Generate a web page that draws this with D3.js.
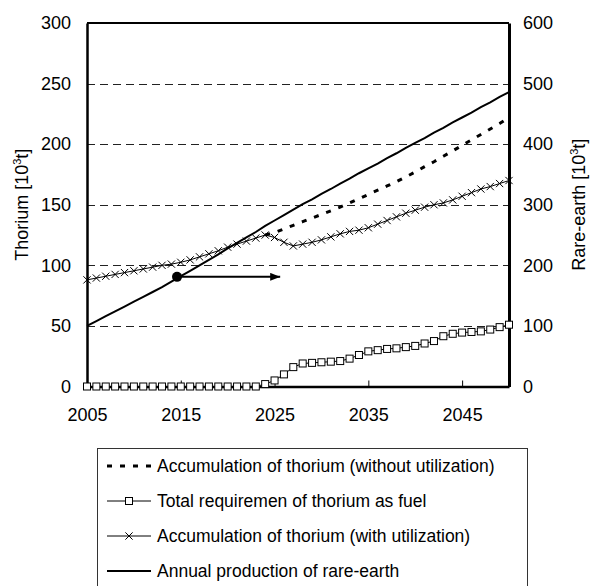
<!DOCTYPE html>
<html>
<head>
<meta charset="utf-8">
<script src="https://cdn.jsdelivr.net/npm/d3@7"></script>
<style>
  body { margin: 0; background: #fff; }
  svg { display: block; font-family: "Liberation Sans", Arial, sans-serif; }
</style>
</head>
<body>
<svg width="590" height="586"></svg>
<script>
// years on the category axis
var years = [2005, 2006, 2007, 2008, 2009, 2010, 2011, 2012, 2013, 2014,
  2015, 2016, 2017, 2018, 2019, 2020, 2021, 2022, 2023, 2024,
  2025, 2026, 2027, 2028, 2029, 2030, 2031, 2032, 2033, 2034,
  2035, 2036, 2037, 2038, 2039, 2040, 2041, 2042, 2043, 2044,
  2045, 2046, 2047, 2048, 2049, 2050];

// thorium [10^3 t], left axis
var withoutUtil = [null, null, null, null, null, null, null, null, null, null,
  null, null, null, null, null, null, null, null, null, 125,
  127, 130, 133, 136, 139, 142, 145, 148, 151.5, 155,
  158.5, 162, 165.5, 169, 173, 177, 181.5, 185.5, 190, 194.5,
  199, 203.5, 208, 212.5, 217, 222];

var fuelReq = [0, 0, 0, 0, 0, 0, 0, 0, 0, 0,
  0, 0, 0, 0, 0, 0, 0, 0, 0, 2,
  5, 10, 16, 19, 19.5, 20, 20.5, 21, 23, 26,
  29, 30, 31, 31.5, 32.5, 33.5, 35.5, 37.5, 41.5, 43.5,
  44.5, 45, 45.5, 47, 49, 51];

var withUtil = [88, 89.5, 91, 92.5, 94, 95.5, 97, 98.5, 100, 101,
  102.5, 104.5, 107, 109.5, 112, 115, 117.5, 120, 122.5, 125,
  123, 119, 116, 117.5, 119, 121, 123.5, 126, 128, 129,
  131, 134, 137, 140, 143, 145.5, 148, 150, 151.5, 154,
  157, 160, 163, 165, 167.5, 170];

// rare-earth [10^3 t], right axis
var rareEarth = [100, 108, 116, 124, 132, 140, 148, 156, 164, 173,
  182, 191, 200, 209, 218, 228, 237, 246, 255, 265,
  274, 283, 292, 301, 309, 318, 326, 335, 343, 352,
  360, 368, 377, 385, 394, 402, 410, 419, 427, 436,
  444, 452, 461, 469, 478, 486];

var xTicks = [2005, 2015, 2025, 2035, 2045];
var leftTicks = [0, 50, 100, 150, 200, 250, 300];
var rightTicks = [0, 100, 200, 300, 400, 500, 600];

var legendLabels = ['Accumulation of thorium (without utilization)',
  'Total requiremen of thorium as fuel',
  'Accumulation of thorium (with utilization)',
  'Annual production of rare-earth'];

// annotation: point on the rare-earth line with arrow to the right axis
var markYear = 2014.6, markValue = 181, arrowEndYear = 2025.6;

var svg = d3.select('svg'),
  margin = {top: 23, right: 81, bottom: 199.5, left: 87},
  width = +svg.attr('width') - margin.left - margin.right,
  height = +svg.attr('height') - margin.top - margin.bottom,
  g = svg.append('g')
    .attr('transform', 'translate(' + margin.left + ',' + margin.top + ')');

var x = d3.scaleLinear().domain([2005, 2050]).range([0, width]);
var y = d3.scaleLinear().domain([0, 300]).range([height, 0]);
var y2 = d3.scaleLinear().domain([0, 600]).range([height, 0]);

// gridlines
g.selectAll('.grid')
  .data(leftTicks.filter(function(d) { return d > 0 && d < 300; }))
  .enter()
  .append('line')
  .attr('x1', 0)
  .attr('x2', width)
  .attr('y1', function(d) { return Math.round(y(d)) + 0.5; })
  .attr('y2', function(d) { return Math.round(y(d)) + 0.5; })
  .attr('stroke', '#222')
  .attr('stroke-width', 1)
  .attr('stroke-dasharray', '8,5');

// top border
g.append('line')
  .attr('x1', 0).attr('x2', width)
  .attr('y1', 0).attr('y2', 0)
  .attr('stroke', '#000').attr('stroke-width', 2);

// axes
var fontSize = '18px';

var bottomAxis = g.append('g')
  .attr('transform', 'translate(0,' + height + ')')
  .call(d3.axisBottom(x).tickValues(xTicks).tickFormat(d3.format('d'))
    .tickSizeInner(-6).tickSizeOuter(0).tickPadding(22));
bottomAxis.select('.domain').attr('stroke-width', 2.5);
bottomAxis.selectAll('.tick line').attr('stroke-width', 1);
bottomAxis.selectAll('text').style('font-size', fontSize).attr('fill', '#000');

var leftAxis = g.append('g')
  .call(d3.axisLeft(y).tickValues(leftTicks).tickSize(0).tickPadding(16));
leftAxis.select('.domain').attr('stroke-width', 2.5);
leftAxis.selectAll('text').style('font-size', fontSize).attr('fill', '#000');

var rightAxis = g.append('g')
  .attr('transform', 'translate(' + width + ',0)')
  .call(d3.axisRight(y2).tickValues(rightTicks).tickSize(0).tickPadding(14));
rightAxis.select('.domain').attr('stroke-width', 3);
rightAxis.selectAll('text').style('font-size', fontSize).attr('fill', '#000');

// axis titles
var leftTitle = svg.append('text')
  .attr('transform', 'translate(28,' + (margin.top + height / 2) + ') rotate(-90)')
  .attr('text-anchor', 'middle')
  .style('font-size', fontSize);
leftTitle.append('tspan').text('Thorium [10');
leftTitle.append('tspan').attr('dy', -7).style('font-size', '11px').text('3');
leftTitle.append('tspan').attr('dy', 7).text('t]');

var rightTitle = svg.append('text')
  .attr('transform', 'translate(585,' + (margin.top + height / 2) + ') rotate(-90)')
  .attr('text-anchor', 'middle')
  .style('font-size', fontSize);
rightTitle.append('tspan').text('Rare-earth [10');
rightTitle.append('tspan').attr('dy', -7).style('font-size', '11px').text('3');
rightTitle.append('tspan').attr('dy', 7).text('t]');

// lines
function lineFor(vals, scale) {
  return d3.line()
    .defined(function(d, i) { return vals[i] !== null; })
    .x(function(d, i) { return x(years[i]); })
    .y(function(d, i) { return scale(vals[i]); })(years);
}

g.append('path')
  .attr('d', lineFor(withoutUtil, y))
  .attr('fill', 'none')
  .attr('stroke', '#000')
  .attr('stroke-width', 3)
  .attr('stroke-dasharray', '5,8');

g.append('path')
  .attr('d', lineFor(fuelReq, y))
  .attr('fill', 'none')
  .attr('stroke', '#000')
  .attr('stroke-width', 1);

g.selectAll('.sq')
  .data(years)
  .enter()
  .append('rect')
  .attr('x', function(d) { return x(d) - 3.5; })
  .attr('y', function(d, i) { return y(fuelReq[i]) - 3.5; })
  .attr('width', 7)
  .attr('height', 7)
  .attr('fill', '#fff')
  .attr('stroke', '#000')
  .attr('stroke-width', 1);

g.append('path')
  .attr('d', lineFor(withUtil, y))
  .attr('fill', 'none')
  .attr('stroke', '#000')
  .attr('stroke-width', 1);

var cross = d3.symbol().type(d3.symbolX).size(36);
g.selectAll('.cr')
  .data(years)
  .enter()
  .append('path')
  .attr('d', cross)
  .attr('transform', function(d, i) {
    return 'translate(' + x(d) + ',' + y(withUtil[i]) + ')';
  })
  .attr('fill', 'none')
  .attr('stroke', '#000')
  .attr('stroke-width', 1);

g.append('path')
  .attr('d', lineFor(rareEarth, y2))
  .attr('fill', 'none')
  .attr('stroke', '#000')
  .attr('stroke-width', 2);

// annotation dot and arrow
svg.append('defs').append('marker')
  .attr('id', 'arrow')
  .attr('viewBox', '0 0 10 8')
  .attr('refX', 10)
  .attr('refY', 4)
  .attr('markerWidth', 5)
  .attr('markerHeight', 4)
  .attr('orient', 'auto')
  .append('path')
  .attr('d', 'M0,0L10,4L0,8Z')
  .attr('fill', '#000');

g.append('line')
  .attr('x1', x(markYear))
  .attr('y1', y2(markValue))
  .attr('x2', x(arrowEndYear))
  .attr('y2', y2(markValue))
  .attr('stroke', '#000')
  .attr('stroke-width', 2)
  .attr('marker-end', 'url(#arrow)');

g.append('circle')
  .attr('cx', x(markYear))
  .attr('cy', y2(markValue))
  .attr('r', 5)
  .attr('fill', '#000');

// legend
var legend = svg.append('g').attr('class', 'legend');
legend.append('rect')
  .attr('x', 97.5)
  .attr('y', 448.5)
  .attr('width', 430)
  .attr('height', 160)
  .attr('fill', '#fff')
  .attr('stroke', '#333')
  .attr('stroke-width', 1);

var rowY = function(i) { return 466 + i * 35; };
var sx0 = 107, sx1 = 151;

var rows = legend.selectAll('.row')
  .data(legendLabels)
  .enter()
  .append('g')
  .attr('class', 'row');

rows.append('line')
  .attr('x1', sx0)
  .attr('x2', sx1)
  .attr('y1', function(d, i) { return rowY(i); })
  .attr('y2', function(d, i) { return rowY(i); })
  .attr('stroke', '#000')
  .attr('stroke-width', function(d, i) { return [3, 1, 1, 2][i]; })
  .attr('stroke-dasharray', function(d, i) { return i === 0 ? '5,8' : null; });

legend.append('rect')
  .attr('x', (sx0 + sx1) / 2 - 3.5)
  .attr('y', rowY(1) - 3.5)
  .attr('width', 7)
  .attr('height', 7)
  .attr('fill', '#fff')
  .attr('stroke', '#000');

legend.append('path')
  .attr('d', cross)
  .attr('transform', 'translate(' + (sx0 + sx1) / 2 + ',' + rowY(2) + ')')
  .attr('fill', 'none')
  .attr('stroke', '#000');

rows.append('text')
  .attr('x', 157)
  .attr('y', function(d, i) { return rowY(i); })
  .attr('dy', '0.35em')
  .style('font-size', '17.5px')
  .text(function(d) { return d; });
</script>
</body>
</html>
